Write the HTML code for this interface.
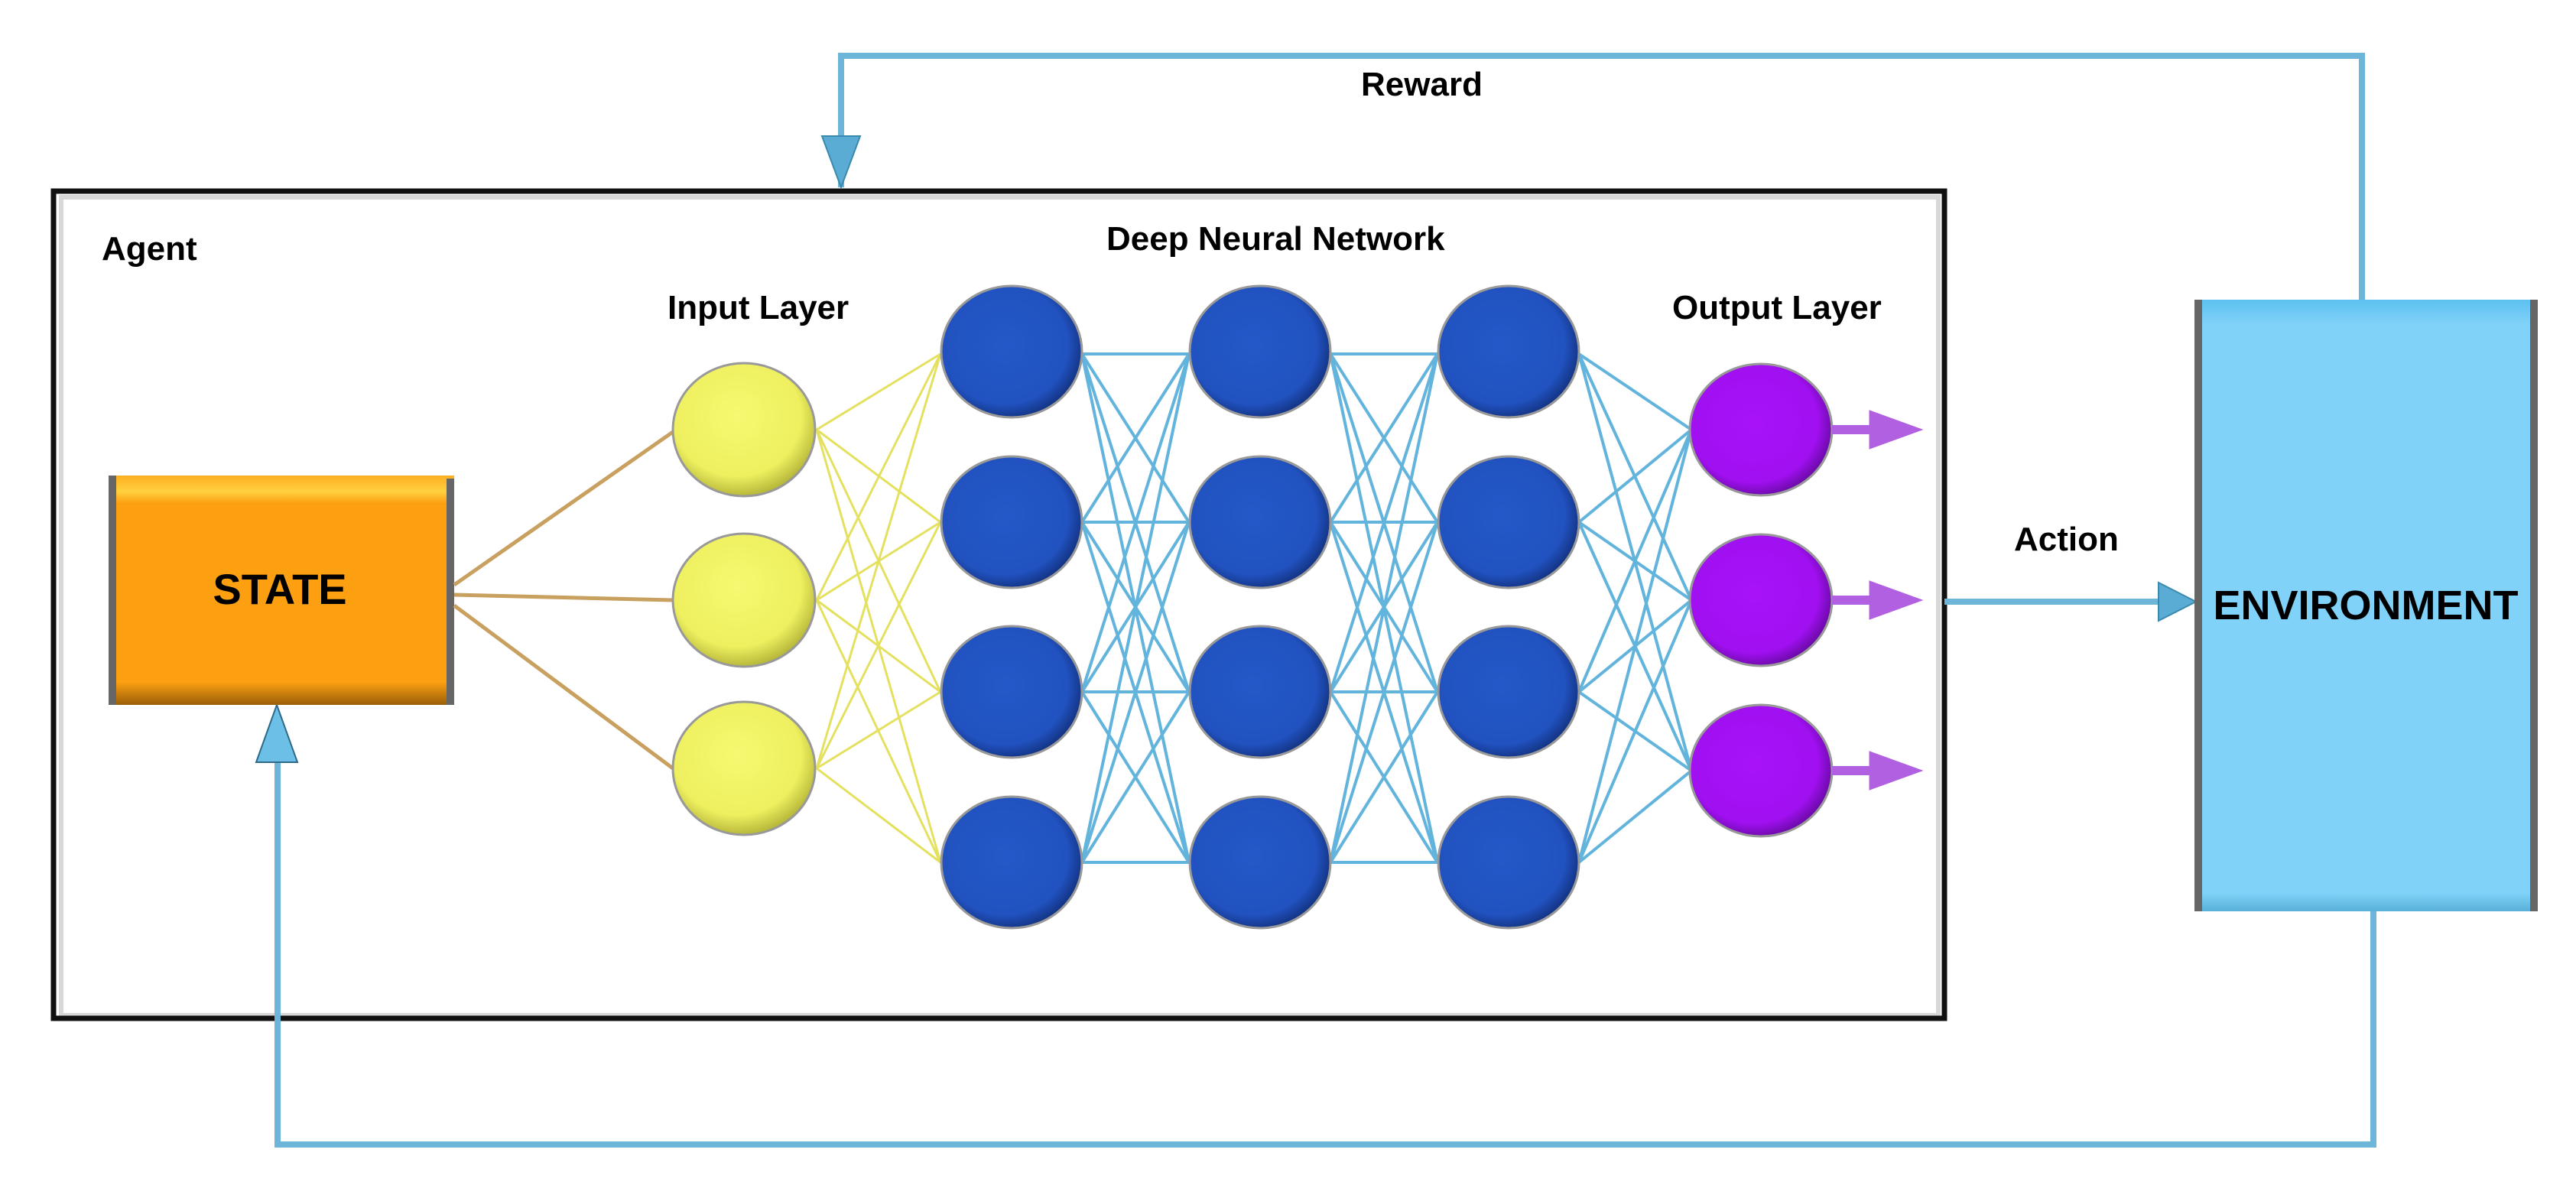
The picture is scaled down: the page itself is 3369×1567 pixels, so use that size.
<!DOCTYPE html>
<html><head><meta charset="utf-8">
<style>
html,body{margin:0;padding:0;background:#fff;}
svg{display:block;}
text{font-family:"Liberation Sans",sans-serif;font-weight:bold;fill:#000;}
</style></head>
<body>
<svg width="3369" height="1567" viewBox="0 0 3369 1567" xmlns="http://www.w3.org/2000/svg">
<defs>
<radialGradient id="gy" cx="0.45" cy="0.4" r="0.6">
<stop offset="0" stop-color="#f6f870"/><stop offset="0.75" stop-color="#eef060"/><stop offset="1" stop-color="#b8b83a"/></radialGradient>
<radialGradient id="gb" cx="0.45" cy="0.45" r="0.6">
<stop offset="0" stop-color="#2458c8"/><stop offset="0.75" stop-color="#2152c0"/><stop offset="1" stop-color="#0f2a70"/></radialGradient>
<radialGradient id="gp" cx="0.45" cy="0.45" r="0.6">
<stop offset="0" stop-color="#a812fa"/><stop offset="0.75" stop-color="#a010f0"/><stop offset="1" stop-color="#5a0890"/></radialGradient>
<linearGradient id="env" x1="0" y1="0" x2="0" y2="1">
<stop offset="0" stop-color="#5cc0f0"/><stop offset="0.04" stop-color="#80d2f8"/><stop offset="0.97" stop-color="#80d2f8"/><stop offset="1" stop-color="#58b0d8"/></linearGradient>
<linearGradient id="st" x1="0" y1="0" x2="0" y2="1">
<stop offset="0" stop-color="#fdb020"/><stop offset="0.07" stop-color="#ffd040"/><stop offset="0.12" stop-color="#fca012"/><stop offset="0.9" stop-color="#fca012"/><stop offset="1" stop-color="#9a5e08"/></linearGradient>
</defs>

<!-- Agent box -->
<rect x="80" y="258" width="2455" height="1070" fill="#fff" stroke="#d8d8d8" stroke-width="6"/>
<rect x="70" y="250" width="2473" height="1082" fill="none" stroke="#111" stroke-width="7"/>

<!-- Reward loop -->
<polyline points="1100,245 1100,73 3089,73 3089,392" fill="none" stroke="#6db6da" stroke-width="8"/>
<polygon points="1075,178 1125,178 1100,245" fill="#5aacd4" stroke="#3a8ab0" stroke-width="2"/>
<!-- Bottom loop -->
<polyline points="3104,1192 3104,1497 363,1497 363,995" fill="none" stroke="#6db6da" stroke-width="8"/>
<polygon points="335,997 389,997 362,922" fill="#6cc0e8" stroke="#2e6a88" stroke-width="2"/>
<!-- Action -->
<line x1="2543" y1="787" x2="2830" y2="787" stroke="#6db6da" stroke-width="8"/>
<polygon points="2823,762 2823,812 2872,787" fill="#5aacd4" stroke="#3a8ab0" stroke-width="2"/>

<!-- Labels -->
<text x="1780" y="125" font-size="44">Reward</text>
<text x="133" y="340" font-size="44">Agent</text>
<text x="1447" y="327" font-size="44">Deep Neural Network</text>
<text x="873" y="417" font-size="44">Input Layer</text>
<text x="2187" y="417" font-size="44">Output Layer</text>
<text x="2634" y="720" font-size="44">Action</text>

<!-- STATE -->
<rect x="142" y="622" width="452" height="300" fill="url(#st)"/>
<rect x="142" y="622" width="10" height="300" fill="#666"/>
<rect x="584" y="626" width="10" height="296" fill="#666"/>
<text x="366" y="790" font-size="56" text-anchor="middle">STATE</text>

<!-- ENVIRONMENT -->
<rect x="2870" y="392" width="449" height="800" fill="url(#env)"/>
<rect x="2870" y="392" width="10" height="800" fill="#666"/>
<rect x="3309" y="392" width="10" height="800" fill="#666"/>
<text x="3094" y="810" font-size="54" text-anchor="middle">ENVIRONMENT</text>

<!-- State to input -->
<g stroke="#c8a060" stroke-width="5">
<line x1="594" y1="765" x2="880" y2="565"/>
<line x1="594" y1="778" x2="880" y2="785"/>
<line x1="594" y1="792" x2="880" y2="1005"/>
</g>
<!-- input to blue1 -->
<g stroke="#e4e060" stroke-width="3">
<line x1="1068" y1="562" x2="1230" y2="463"/><line x1="1068" y1="562" x2="1230" y2="683"/><line x1="1068" y1="562" x2="1230" y2="905"/><line x1="1068" y1="562" x2="1230" y2="1128"/>
<line x1="1068" y1="785" x2="1230" y2="463"/><line x1="1068" y1="785" x2="1230" y2="683"/><line x1="1068" y1="785" x2="1230" y2="905"/><line x1="1068" y1="785" x2="1230" y2="1128"/>
<line x1="1068" y1="1005" x2="1230" y2="463"/><line x1="1068" y1="1005" x2="1230" y2="683"/><line x1="1068" y1="1005" x2="1230" y2="905"/><line x1="1068" y1="1005" x2="1230" y2="1128"/>
</g>
<!-- blue connections -->
<g stroke="#62b4dc" stroke-width="4">
<line x1="1415" y1="463" x2="1555" y2="463"/><line x1="1415" y1="463" x2="1555" y2="683"/><line x1="1415" y1="463" x2="1555" y2="905"/><line x1="1415" y1="463" x2="1555" y2="1128"/>
<line x1="1415" y1="683" x2="1555" y2="463"/><line x1="1415" y1="683" x2="1555" y2="683"/><line x1="1415" y1="683" x2="1555" y2="905"/><line x1="1415" y1="683" x2="1555" y2="1128"/>
<line x1="1415" y1="905" x2="1555" y2="463"/><line x1="1415" y1="905" x2="1555" y2="683"/><line x1="1415" y1="905" x2="1555" y2="905"/><line x1="1415" y1="905" x2="1555" y2="1128"/>
<line x1="1415" y1="1128" x2="1555" y2="463"/><line x1="1415" y1="1128" x2="1555" y2="683"/><line x1="1415" y1="1128" x2="1555" y2="905"/><line x1="1415" y1="1128" x2="1555" y2="1128"/>

<line x1="1740" y1="463" x2="1880" y2="463"/><line x1="1740" y1="463" x2="1880" y2="683"/><line x1="1740" y1="463" x2="1880" y2="905"/><line x1="1740" y1="463" x2="1880" y2="1128"/>
<line x1="1740" y1="683" x2="1880" y2="463"/><line x1="1740" y1="683" x2="1880" y2="683"/><line x1="1740" y1="683" x2="1880" y2="905"/><line x1="1740" y1="683" x2="1880" y2="1128"/>
<line x1="1740" y1="905" x2="1880" y2="463"/><line x1="1740" y1="905" x2="1880" y2="683"/><line x1="1740" y1="905" x2="1880" y2="905"/><line x1="1740" y1="905" x2="1880" y2="1128"/>
<line x1="1740" y1="1128" x2="1880" y2="463"/><line x1="1740" y1="1128" x2="1880" y2="683"/><line x1="1740" y1="1128" x2="1880" y2="905"/><line x1="1740" y1="1128" x2="1880" y2="1128"/>

<line x1="2065" y1="463" x2="2212" y2="562"/><line x1="2065" y1="463" x2="2212" y2="785"/><line x1="2065" y1="463" x2="2212" y2="1008"/>
<line x1="2065" y1="683" x2="2212" y2="562"/><line x1="2065" y1="683" x2="2212" y2="785"/><line x1="2065" y1="683" x2="2212" y2="1008"/>
<line x1="2065" y1="905" x2="2212" y2="562"/><line x1="2065" y1="905" x2="2212" y2="785"/><line x1="2065" y1="905" x2="2212" y2="1008"/>
<line x1="2065" y1="1128" x2="2212" y2="562"/><line x1="2065" y1="1128" x2="2212" y2="785"/><line x1="2065" y1="1128" x2="2212" y2="1008"/>
</g>

<!-- nodes -->
<g stroke="#999" stroke-width="3">
<ellipse cx="973" cy="562" rx="93" ry="87" fill="url(#gy)"/>
<ellipse cx="973" cy="785" rx="93" ry="87" fill="url(#gy)"/>
<ellipse cx="973" cy="1005" rx="93" ry="87" fill="url(#gy)"/>

<ellipse cx="1323" cy="460" rx="92" ry="86" fill="url(#gb)"/>
<ellipse cx="1323" cy="683" rx="92" ry="86" fill="url(#gb)"/>
<ellipse cx="1323" cy="905" rx="92" ry="86" fill="url(#gb)"/>
<ellipse cx="1323" cy="1128" rx="92" ry="86" fill="url(#gb)"/>

<ellipse cx="1648" cy="460" rx="92" ry="86" fill="url(#gb)"/>
<ellipse cx="1648" cy="683" rx="92" ry="86" fill="url(#gb)"/>
<ellipse cx="1648" cy="905" rx="92" ry="86" fill="url(#gb)"/>
<ellipse cx="1648" cy="1128" rx="92" ry="86" fill="url(#gb)"/>

<ellipse cx="1973" cy="460" rx="92" ry="86" fill="url(#gb)"/>
<ellipse cx="1973" cy="683" rx="92" ry="86" fill="url(#gb)"/>
<ellipse cx="1973" cy="905" rx="92" ry="86" fill="url(#gb)"/>
<ellipse cx="1973" cy="1128" rx="92" ry="86" fill="url(#gb)"/>

<ellipse cx="2303" cy="562" rx="93" ry="86" fill="url(#gp)"/>
<ellipse cx="2303" cy="785" rx="93" ry="86" fill="url(#gp)"/>
<ellipse cx="2303" cy="1008" rx="93" ry="86" fill="url(#gp)"/>
</g>

<!-- output arrows -->
<g fill="#b060e0" stroke="#b060e0">
<line x1="2396" y1="562" x2="2450" y2="562" stroke-width="12"/>
<polygon points="2445,537 2445,587 2514,562"/>
<line x1="2396" y1="785" x2="2450" y2="785" stroke-width="12"/>
<polygon points="2445,760 2445,810 2514,785"/>
<line x1="2396" y1="1008" x2="2450" y2="1008" stroke-width="12"/>
<polygon points="2445,983 2445,1033 2514,1008"/>
</g>
</svg>
</body></html>
